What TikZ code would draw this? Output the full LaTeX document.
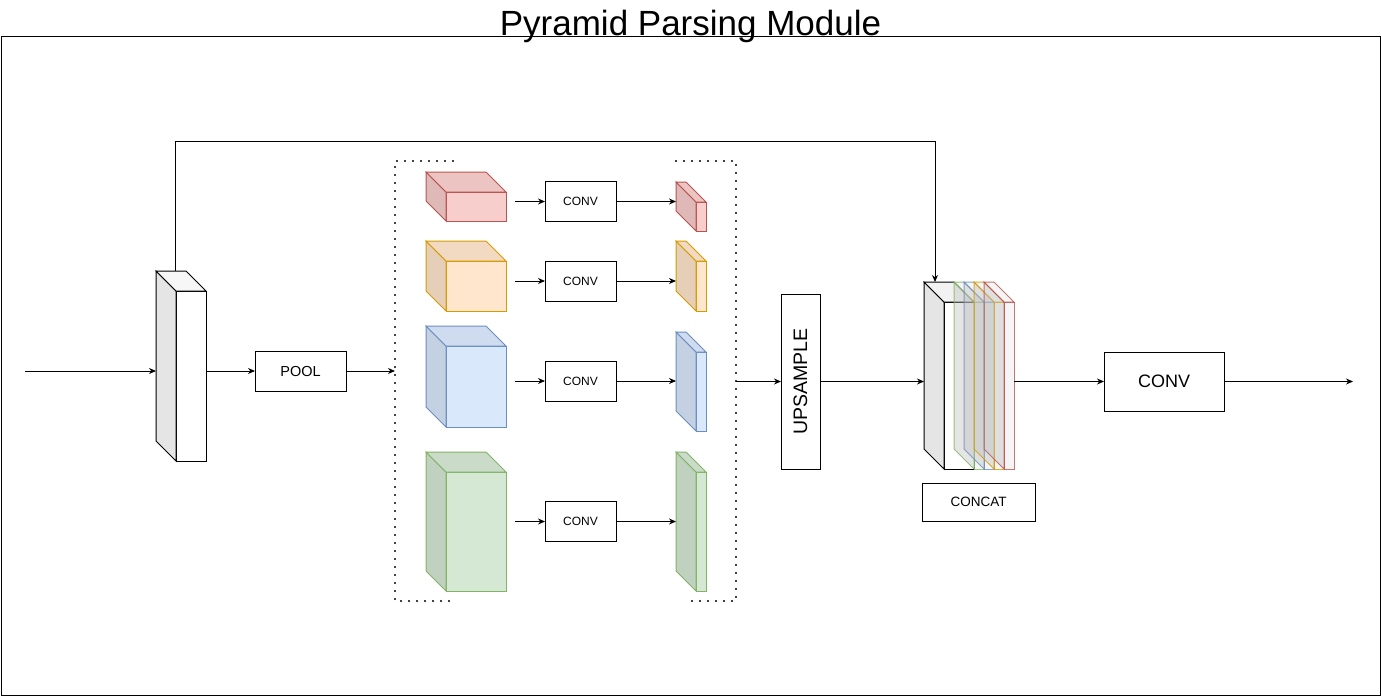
\documentclass[tikz,border=0pt]{standalone}
\usepackage{fontspec}
\setmainfont{Liberation Sans}
\usetikzlibrary{arrows.meta}
\definecolor{redfill}{HTML}{F8CECC}
\definecolor{redline}{HTML}{B85450}
\definecolor{orangefill}{HTML}{FFE6CC}
\definecolor{orangeline}{HTML}{D79B00}
\definecolor{bluefill}{HTML}{DAE8FC}
\definecolor{blueline}{HTML}{6C8EBF}
\definecolor{greenfill}{HTML}{D5E8D4}
\definecolor{greenline}{HTML}{82B366}
% side and top faces of a cube whose front face is node #1
\newcommand{\cubefaces}[4]{%
  \coordinate (#1-tl) at ([shift={(-#2,-#2)}]#1.north west);
  \coordinate (#1-bl) at ([shift={(-#2,-#2)}]#1.south west);
  \coordinate (#1-tr) at ([shift={(-#2,-#2)}]#1.north east);
  \draw[#3] (#1.north west) -- (#1-tl) -- (#1-bl) -- (#1.south west) -- cycle;
  \draw[#4] (#1.north west) -- (#1-tl) -- (#1-tr) -- (#1.north east) -- cycle;
}
\begin{document}
\begin{tikzpicture}[x=1pt,y=-1pt,
    face/.style={draw,line width=1pt,inner sep=0pt,outer sep=0pt},
    box/.style={draw,line width=1pt,inner sep=0pt,outer sep=0pt,fill=white},
    arr/.style={-{Stealth[length=7pt,width=6pt]},line width=0.9pt},
    dots/.style={line width=2.2pt,dash pattern=on 0pt off 8pt,line cap=round}]
    \useasboundingbox (0,0) rectangle (1381,697);
    \draw[line width=1pt] (1,36.5) rectangle (1380,695.5);
    \node[anchor=base,font=\fontsize{35}{40}\selectfont] (title) at (690.5,35) {Pyramid Parsing Module};

    % input feature map
    \node[face,fill=white,minimum width=30pt,minimum height=170pt] (lb) at (191,376) {};
    \cubefaces{lb}{20}{face,fill=black!10}{face,fill=black!3}
    \coordinate (src) at (25,371);
    \draw[arr] (src) -- (src -| lb-bl);
    \node[box,minimum width=91pt,minimum height=40pt,font=\fontsize{14.5}{16}\selectfont] (pool) at (300.5,371) {POOL};
    \draw[arr] (pool.west -| lb.east) -- (pool.west);

    % dotted brackets
    \coordinate (gl) at (395,161);
    \coordinate (gr) at (736,161);
    \draw[dots] (453,161) -- (gl) -- (395,601) -- (453,601);
    \draw[dots] (676,161) -- (gr) -- (736,601) -- (686,601);
    \draw[arr] (pool.east) -- (pool.east -| gl);

    % pyramid levels
    \foreach \n/\fc/\dc/\cy/\ct/\cb/\st/\sb in {
        r/redfill/redline/201.5/192/221/202/231,
        o/orangefill/orangeline/281/261/311/261/311,
        b/bluefill/blueline/381/346/427/352/431,
        g/greenfill/greenline/521.5/472/591/472/591}
    {
        \node[face,fill=\fc,draw=\dc,minimum width=60pt,minimum height={(\cb-\ct)*1pt}] (c\n) at (476,{(\ct+\cb)/2}) {};
        \cubefaces{c\n}{20}{face,draw=\dc,fill=\fc!90!black}{face,draw=\dc,fill=\fc!95!black}
        \node[box,minimum width=71pt,minimum height=40pt,font=\fontsize{12}{14}\selectfont] (conv\n) at (580.5,\cy) {CONV};
        \node[face,fill=\fc,draw=\dc,minimum width=10pt,minimum height={(\sb-\st)*1pt}] (s\n) at (701,{(\st+\sb)/2}) {};
        \cubefaces{s\n}{20}{face,draw=\dc,fill=\fc!90!black}{face,draw=\dc,fill=\fc!95!black}
        \coordinate (in\n) at ([xshift=-30pt]conv\n.west);
        \draw[arr] (in\n) -- (conv\n.west);
        \draw[arr] (conv\n.east) -- (conv\n.east -| s\n-bl);
    }

    % upsample
    \node[box,rotate=90,minimum width=175pt,minimum height=39pt,font=\fontsize{19.5}{22}\selectfont] (ups) at (800.5,381.5) {UPSAMPLE};
    \draw[arr] (ups.north -| gr) -- (ups.north);

    % concatenation
    \node[face,fill=white,minimum width=30pt,minimum height=167pt] (cc) at (959,385.5) {};
    \cubefaces{cc}{20}{face,fill=black!10}{face,fill=black!5}
    \foreach \i/\col/\xx in {1/greenline/979,2/blueline/989,3/orangeline/999,4/redline/1009}
    {
        \node[face,draw=\col,draw opacity=0.8,fill=black!10,fill opacity=0.4,minimum width=10pt,minimum height=167pt] (k\i) at (\xx,385.5) {};
        \cubefaces{k\i}{20}{face,draw=\col,draw opacity=0.8,fill=black!25,fill opacity=0.4}{face,draw=\col,draw opacity=0.8,fill=black!10,fill opacity=0.4}
    }
    \draw[arr] (ups.south) -- (ups.south -| cc-bl);
    \node[box,minimum width=113pt,minimum height=38pt,font=\fontsize{13.5}{16}\selectfont] (concat) at (978.5,502) {CONCAT};

    % skip connection
    \coordinate (skipA) at ([shift={(-16,-20)}]lb.north);
    \coordinate (skipB) at ([shift={(-24,-20)}]cc.north);
    \draw[arr] (skipA) -- ++(0,-130) -| (skipB);

    % final conv
    \node[box,minimum width=120pt,minimum height=59pt,font=\fontsize{18}{20}\selectfont] (cv) at (1164,381.5) {CONV};
    \draw[arr] (cv.west -| k4.east) -- (cv.west);
    \coordinate (dst) at (1353,381.5);
    \draw[arr] (cv.east) -- (dst);
\end{tikzpicture}
\end{document}
